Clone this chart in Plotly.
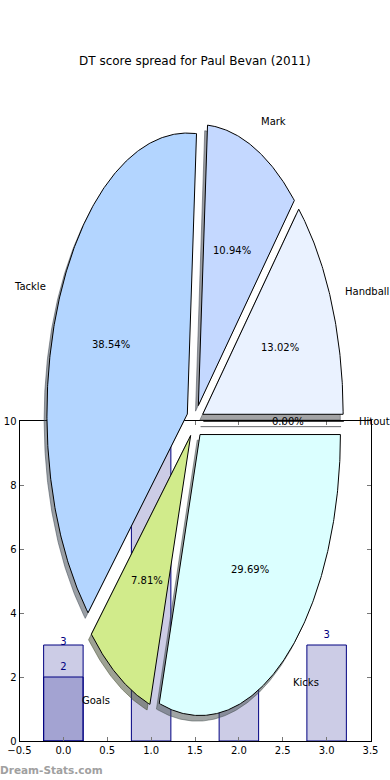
import numpy as np
import plotly.graph_objects as go

# ---------------- data ----------------
pie_labels = ["Hitout", "Handball", "Mark", "Tackle", "Goals", "Kicks"]
pie_values = [0, 50, 42, 148, 30, 114]
pie_colors = ["#DDE8FF", "#EAF2FF", "#C4D8FF", "#B3D5FF", "#D1EB8B", "#DBFFFF"]

bar_cats = [0, 1, 2, 3]
series_a = [3, 10, 6, None]
series_b = [2, None, None, 3]

x_tick_vals = [-0.5, 0.0, 0.5, 1.0, 1.5, 2.0, 2.5, 3.0, 3.5]
x_tick_text = ["\u22120.5", "0.0", "0.5", "1.0", "1.5", "2.0", "2.5", "3.0", "3.5"]
y_tick_vals = [0, 2, 4, 6, 8, 10]
y_tick_text = ["0", "2", "4", "6", "8", "10"]

title_text = "DT score spread for Paul Bevan (2011)"
watermark = "Dream-Stats.com"

# ---------------- style ----------------
W, H = 390, 780
FONT = "DejaVu Sans"
EXPLODE = 0.06
SHADOW_OFF = 0.02
BAR_FILL = "rgba(0,0,128,0.2)"
NAVY = "#000080"

fig = go.Figure()

# ---------------- bars (lower axes) ----------------
for vals in (series_a, series_b):
    fig.add_trace(go.Bar(
        x=bar_cats, y=vals, width=0.45,
        marker=dict(color=BAR_FILL, line=dict(color=NAVY, width=1)),
        xaxis="x", yaxis="y", hoverinfo="skip", showlegend=False))
for vals, off in ((series_a, 0.08), (series_b, 0.3)):
    xs = [c for c, v in zip(bar_cats, vals) if v is not None]
    ys = [v + off for v in vals if v is not None]
    tx = [str(v) for v in vals if v is not None]
    fig.add_trace(go.Scatter(
        x=xs, y=ys, text=tx, mode="text", textposition="middle center",
        textfont=dict(family=FONT, size=10, color=NAVY),
        xaxis="x", yaxis="y", hoverinfo="skip", showlegend=False, cliponaxis=False))

# ---------------- pie (upper, full-figure axes) ----------------
total = float(sum(pie_values))
starts = np.concatenate([[0.0], np.cumsum(pie_values)[:-1]]) / total * 360.0
ends = np.cumsum(pie_values) / total * 360.0

wedges = []
for lab, v, col, t1, t2 in zip(pie_labels, pie_values, pie_colors, starts, ends):
    mid = np.deg2rad((t1 + t2) / 2.0)
    ox, oy = EXPLODE * np.cos(mid), EXPLODE * np.sin(mid)
    n = max(2, int(abs(t2 - t1)) * 2 + 2)
    th = np.deg2rad(np.linspace(t1, t2, n))
    xs = np.concatenate([[ox], ox + np.cos(th), [ox]])
    ys = np.concatenate([[oy], oy + np.sin(th), [oy]])
    wedges.append((lab, v, col, mid, ox, oy, xs, ys))

def shade(hexcol):
    h = hexcol.lstrip("#")
    r, g, b = (int(h[i:i + 2], 16) for i in (0, 2, 4))
    return "rgba(%d,%d,%d,0.5)" % (r * 0.3, g * 0.3, b * 0.3)

for lab, v, col, mid, ox, oy, xs, ys in wedges:
    sc = shade(col)
    fig.add_trace(go.Scatter(
        x=xs - SHADOW_OFF, y=ys - SHADOW_OFF, mode="lines", fill="toself",
        fillcolor=sc, line=dict(color=sc, width=1),
        xaxis="x2", yaxis="y2", hoverinfo="skip", showlegend=False))

for lab, v, col, mid, ox, oy, xs, ys in wedges:
    fig.add_trace(go.Scatter(
        x=xs, y=ys, mode="lines", fill="toself",
        fillcolor=col, line=dict(color="black", width=1),
        xaxis="x2", yaxis="y2", hoverinfo="skip", showlegend=False))

annotations = []
for lab, v, col, mid, ox, oy, xs, ys in wedges:
    lx, ly = ox + 1.1 * np.cos(mid), oy + 1.1 * np.sin(mid)
    annotations.append(dict(
        x=lx, y=ly, xref="x2", yref="y2", text=lab, showarrow=False,
        xanchor="left" if lx > 0 else "right", yanchor="middle", borderpad=0,
        font=dict(family=FONT, size=10, color="black")))
    px, py = ox + 0.6 * np.cos(mid), oy + 0.6 * np.sin(mid)
    annotations.append(dict(
        x=px, y=py, xref="x2", yref="y2", text="%.2f%%" % (v / total * 100),
        showarrow=False, xanchor="center", yanchor="middle",
        font=dict(family=FONT, size=10, color="black")))

annotations.append(dict(
    x=0.5, y=1 - 61 / H, xref="paper", yref="paper", text=title_text,
    showarrow=False, xanchor="center", yanchor="middle",
    font=dict(family=FONT, size=12, color="black")))
annotations.append(dict(
    x=-2 / W, y=1 - 770 / H, xref="paper", yref="paper", text="<b>%s</b>" % watermark,
    showarrow=False, xanchor="left", yanchor="middle",
    font=dict(family=FONT, size=10.5, color="#a0a0a0")))

# pie axes geometry (px per unit, centre)
RX, RY = 140.4, 281.0
CX, CY = 195.0, 421.0
x2_range = [-CX / RX, (W - CX) / RX]
y2_range = [-(H - CY) / RY, CY / RY]

axis_common = dict(
    showline=True, linecolor="black", linewidth=1, mirror="ticks",
    ticks="inside", ticklen=4, tickwidth=1, tickcolor="#777",
    showgrid=False, zeroline=False, automargin=False,
    tickfont=dict(family=FONT, size=10, color="black"))

fig.update_layout(
    width=W, height=H, margin=dict(l=0, r=0, t=0, b=0, pad=0, autoexpand=False),
    paper_bgcolor="white", plot_bgcolor="rgba(0,0,0,0)",
    barmode="overlay", showlegend=False,
    xaxis=dict(domain=[0.05, 0.95], range=[-0.5, 3.5], tickvals=x_tick_vals,
               ticktext=x_tick_text, anchor="y", **axis_common),
    yaxis=dict(domain=[0.05, 1 - 421 / H], range=[0, 10], tickvals=y_tick_vals,
               ticktext=y_tick_text, anchor="x", **axis_common),
    xaxis2=dict(domain=[0, 1], range=x2_range, visible=False, anchor="y2",
                fixedrange=True, automargin=False),
    yaxis2=dict(domain=[0, 1], range=y2_range, visible=False, anchor="x2",
                fixedrange=True, automargin=False),
    annotations=annotations,
)

fig.write_html(
    "out.html",
    config={"displayModeBar": False},
    post_script="document.body.style.margin='0';document.body.style.padding='0';",
)
